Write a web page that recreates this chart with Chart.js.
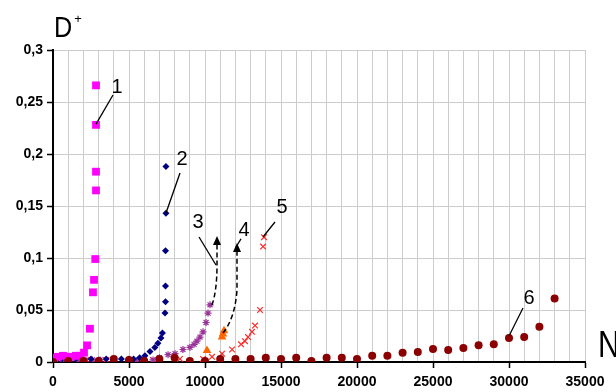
<!DOCTYPE html>
<html lang="en">
<head>
<meta charset="UTF-8">
<title>D+ vs N</title>
<style>
  html, body { margin: 0; padding: 0; background: #fff; }
  #wrap { width: 616px; height: 392px; }
</style>
</head>
<body>
<div id="wrap"><canvas id="chart"></canvas></div>
<script src="https://cdn.jsdelivr.net/npm/chart.js@4.4.0/dist/chart.umd.min.js"></script>
<script>
// axis ranges / ticks
const xMax = 35000;
const xLabelStep = 5000;
const yMax = 0.3;
const yStep = 0.05;

// series 1 (magenta squares)
const n1 = [70, 330, 660, 920, 1180, 1510, 1780, 2040, 2240, 2430, 2630, 2700, 2780, 2830, 2830, 2830, 2830];
const d1 = [0.004, 0.005, 0.006, 0.005, 0.005, 0.006, 0.006, 0.009, 0.016, 0.032, 0.067, 0.079, 0.099, 0.165, 0.183, 0.228, 0.266];

// series 2 (navy diamonds)
const n2 = [200, 600, 1000, 1500, 2000, 2500, 3000, 3500, 4000, 4500, 5000, 5300, 5700, 6050, 6380, 6700, 6900, 7100, 7200, 7370, 7400, 7400, 7400, 7430, 7430];
const d2 = [0.002, 0.003, 0.002, 0.003, 0.002, 0.003, 0.002, 0.003, 0.002, 0.003, 0.003, 0.003, 0.004, 0.006, 0.010, 0.014, 0.018, 0.023, 0.028, 0.047, 0.058, 0.073, 0.107, 0.143, 0.188];

// series 3 (purple asterisks)
const n3 = [100, 600, 1100, 1600, 2100, 2600, 3100, 4000, 5000, 5500, 6000, 6580, 7000, 7570, 8030, 8550, 9010, 9280, 9470, 9670, 9870, 10070, 10200, 10330];
const d3 = [0.003, 0.002, 0.002, 0.002, 0.002, 0.002, 0.002, 0.001, 0.001, 0.001, 0.002, 0.002, 0.004, 0.007, 0.008, 0.012, 0.014, 0.017, 0.020, 0.024, 0.029, 0.038, 0.047, 0.055];

// series 4 (orange triangles)
const n4 = [10130, 11120, 11180, 11250];
const d4 = [0.011, 0.024, 0.027, 0.030];

// series 5 (red crosses)
const n5 = [2200, 3500, 5000, 6580, 8350, 9870, 10460, 11120, 11780, 12370, 12630, 12830, 13090, 13290, 13620, 13820, 13880];
const d5 = [0.002, 0.002, 0.001, 0.002, 0.003, 0.003, 0.005, 0.008, 0.012, 0.017, 0.020, 0.024, 0.029, 0.035, 0.050, 0.111, 0.120];

// series 6 (dark red circles)
const n6 = [0, 1000, 2000, 3000, 4000, 5000, 6000, 7000, 8000, 9000, 10000, 11000, 12000, 13000, 14000, 15000, 16000,
            17000, 18000, 19000, 20000, 21000, 22000, 23000, 24000, 25000, 26000, 27000, 28000, 29000, 30000, 31000, 32000, 33000];
const d6 = [0.000, 0.001, 0.001, 0.001, 0.003, 0.002, 0.001, 0.003, 0.004, 0.001, 0.001, 0.003, 0.003, 0.003, 0.004, 0.003, 0.004,
            0.001, 0.004, 0.004, 0.003, 0.006, 0.006, 0.009, 0.0095, 0.0125, 0.0115, 0.0135, 0.016, 0.017, 0.023, 0.024, 0.034, 0.061];

// curve labels, in data units: [text, N, D]
const curveLabels = [['1', 4211, 0.2635], ['2', 8487, 0.1952], ['3', 9539, 0.1337], ['4', 12566, 0.126], ['5', 15066, 0.149], ['6', 31316, 0.0615]];
// leader lines: [N1, D1, N2, D2]
const leaders = [
  [2829, 0.2288, 3947, 0.2567],
  [7434, 0.1433, 8355, 0.1817],
  [9605, 0.1202, 10724, 0.0933],
  [12039, 0.1106, 12368, 0.1183],
  [13816, 0.1202, 14605, 0.1346],
  [30000, 0.025, 30921, 0.0519]
];
// dashed arrows: start, control, bend, tip
const arrows = [
  [[10461, 0.0548], [10790, 0.069], [10790, 0.0933], [10790, 0.1212]],
  [[11184, 0.0279], [11974, 0.0423], [12105, 0.0692], [12105, 0.1144]]
];

function pts(xs, ys) {
  return xs.map((v, i) => ({ x: v, y: ys[i] }));
}

const fontFam = '"Liberation Sans", Arial, sans-serif';

const notes = {
  id: 'notes',
  afterDatasetsDraw(chart) {
    const { ctx, scales } = chart;
    const px = v => scales.x.getPixelForValue(v);
    const py = v => scales.y.getPixelForValue(v);
    ctx.save();
    ctx.strokeStyle = '#000';
    ctx.fillStyle = '#000';

    ctx.lineWidth = 1.3;
    leaders.forEach(l => {
      ctx.beginPath();
      ctx.moveTo(px(l[0]), py(l[1]));
      ctx.lineTo(px(l[2]), py(l[3]));
      ctx.stroke();
    });

    ctx.font = '20px ' + fontFam;
    ctx.textAlign = 'center';
    ctx.textBaseline = 'middle';
    curveLabels.forEach(c => ctx.fillText(c[0], px(c[1]), py(c[2])));

    arrows.forEach(a => {
      const [s, c, m, t] = a;
      const tx = px(t[0]), ty = py(t[1]);
      const mx = px(m[0]), my = py(m[1]);
      const len = Math.hypot(tx - mx, ty - my);
      const ux = (tx - mx) / len, uy = (ty - my) / len;
      const bx = tx - ux * 9, by = ty - uy * 9;
      ctx.setLineDash([5, 3]);
      ctx.lineWidth = 1.5;
      ctx.beginPath();
      ctx.moveTo(px(s[0]), py(s[1]));
      ctx.quadraticCurveTo(px(c[0]), py(c[1]), mx, my);
      ctx.lineTo(bx, by);
      ctx.stroke();
      ctx.setLineDash([]);
      ctx.beginPath();
      ctx.moveTo(tx, ty);
      ctx.lineTo(bx - uy * 4, by + ux * 4);
      ctx.lineTo(bx + uy * 4, by - ux * 4);
      ctx.closePath();
      ctx.fill();
    });

    // axis titles
    const area = chart.chartArea;
    ctx.textAlign = 'left';
    ctx.textBaseline = 'alphabetic';
    ctx.save();
    ctx.translate(area.left + 1, 37);
    ctx.scale(0.84, 1);
    ctx.font = '30px ' + fontFam;
    ctx.fillText('D', 0, 0);
    ctx.restore();
    ctx.font = '13px ' + fontFam;
    ctx.textAlign = 'center';
    ctx.textBaseline = 'middle';
    ctx.fillText('+', area.left + 25, 19);
    ctx.save();
    ctx.translate(area.right + 13, 357);
    ctx.scale(0.84, 1);
    ctx.textAlign = 'left';
    ctx.textBaseline = 'alphabetic';
    ctx.font = '36px ' + fontFam;
    ctx.fillText('N', 0, 0);
    ctx.restore();
    ctx.restore();
  }
};

const ctx = document.getElementById('chart').getContext('2d');
new Chart(ctx, {
  type: 'scatter',
  data: {
    datasets: [
      { data: pts(n1, d1), pointStyle: 'rect', pointRadius: 5.5, backgroundColor: '#ff00ff', borderColor: '#ff00ff', borderWidth: 0, order: 1 },
      { data: pts(n2, d2), pointStyle: 'rectRot', pointRadius: 3.5, backgroundColor: '#000080', borderColor: '#000080', borderWidth: 0, order: 2 },
      { data: pts(n3, d3), pointStyle: 'star', pointRadius: 3.5, backgroundColor: '#993399', borderColor: '#993399', borderWidth: 1.2, order: 3 },
      { data: pts(n4, d4), pointStyle: 'triangle', pointRadius: 5, backgroundColor: '#ff6600', borderColor: '#ff6600', borderWidth: 0, order: 4 },
      { data: pts(n5, d5), pointStyle: 'crossRot', pointRadius: 4, backgroundColor: '#ff2a2a', borderColor: '#ff2a2a', borderWidth: 1.2, order: 5 },
      { data: pts(n6, d6), pointStyle: 'circle', pointRadius: 4, backgroundColor: '#8b0000', borderColor: '#8b0000', borderWidth: 0, order: 0 }
    ]
  },
  options: {
    responsive: true,
    maintainAspectRatio: false,
    animation: false,
    events: [],
    layout: { padding: { top: 50, right: 31, left: 0, bottom: 0 } },
    plugins: { legend: { display: false }, tooltip: { enabled: false } },
    scales: {
      x: {
        type: 'linear',
        min: 0,
        max: xMax,
        afterFit: s => { s.height = 30; },
        border: { color: '#000', width: 2 },
        grid: {
          color: '#cccccc',
          lineWidth: 1,
          tickLength: 6,
          tickColor: c => (c.tick && c.tick.value % xLabelStep === 0) ? '#000' : 'rgba(0,0,0,0)',
          tickWidth: 1.5
        },
        ticks: {
          stepSize: 1000,
          autoSkip: false,
          maxRotation: 0,
          padding: 6,
          color: '#000',
          font: { family: fontFam, size: 14, weight: 'bold' },
          callback: v => v % xLabelStep === 0 ? String(v) : ''
        }
      },
      y: {
        min: 0,
        max: yMax,
        afterFit: s => { s.width = 53; },
        border: { color: '#000', width: 2 },
        grid: { color: '#cccccc', lineWidth: 1, tickLength: 6, tickColor: '#000', tickWidth: 1.5 },
        ticks: {
          stepSize: yStep,
          padding: 4,
          color: '#000',
          font: { family: fontFam, size: 14, weight: 'bold' },
          callback: v => String(Math.round(v * 100) / 100).replace('.', ',')
        }
      }
    }
  },
  plugins: [notes]
});
</script>
</body>
</html>
